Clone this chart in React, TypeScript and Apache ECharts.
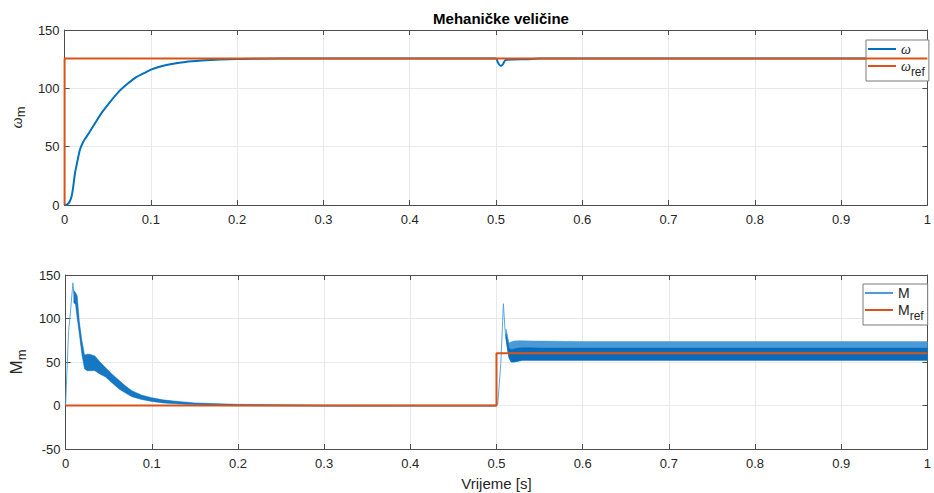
import React, { useEffect, useRef } from "react";
import * as echarts from "echarts";

// ---- Data ----
const omegaT = [0, 0.002, 0.004, 0.006, 0.008, 0.01, 0.012, 0.015, 0.0176, 0.0215, 0.025, 0.029, 0.036, 0.044, 0.054, 0.064, 0.074, 0.083, 0.092, 0.1, 0.11, 0.121, 0.14, 0.159, 0.18, 0.2, 0.25, 0.3, 0.5, 0.502, 0.5053, 0.508, 0.511, 0.52, 0.535, 0.55, 0.6, 1.0];
const omegaV = [0, 0.2, 1, 3, 7, 15.6, 27, 38, 47, 54, 58, 62.6, 71, 80, 89.5, 98, 104.5, 109.6, 113, 116, 118.5, 120.4, 122.6, 123.8, 124.7, 125.2, 125.6, 125.66, 125.66, 122.5, 119.3, 120.6, 124.2, 124.8, 125.0, 125.5, 125.66, 125.66];

const omegaRefT = [0, 0, 1];
const omegaRefV = [0, 125.66, 125.66];

const mT = [0, 0.0035, 0.005, 0.0085, 0.0095, 0.0105, 0.012, 0.013, 0.0143, 0.0155, 0.018, 0.021, 0.025, 0.03, 0.04, 0.05, 0.07, 0.1, 0.15, 0.2, 0.3, 0.5, 0.5015, 0.505, 0.508, 0.51, 0.513, 0.5157, 0.519, 0.53, 0.6, 1];
const mV = [0, 86, 100, 141, 130, 128, 124, 118, 101, 94, 71, 52, 50, 49, 43, 35, 18, 7, 2, 0.5, 0, 0, 2, 48, 117, 86, 63, 53, 60, 62, 62, 62];

const mRefT = [0, 0.5, 0.5, 1];
const mRefV = [0, 0, 60, 60];

// ripple envelope during start-up
const band1T = [0.0095, 0.0115, 0.0135, 0.016, 0.019, 0.022, 0.025, 0.028, 0.034, 0.04, 0.046, 0.054, 0.062, 0.07, 0.077, 0.088, 0.1, 0.113, 0.127, 0.15, 0.178, 0.2, 0.25, 0.3, 0.4, 0.5];
const band1Lo = [118, 116, 100, 82, 58, 42, 40, 40, 40, 36, 33, 26, 19, 14, 10, 7, 4.6, 3, 2, 0.8, 0, -0.3, -0.6, -0.8, -0.8, -0.8];
const band1Hi = [132, 130, 126, 96, 74, 58, 59, 59, 57, 50, 44, 36, 29, 22, 17, 12, 9, 6.5, 5, 3, 2, 1.4, 0.8, 0.5, 0.4, 0.4];

// ripple envelope after load step
const band2T = [0.511, 0.5125, 0.5145, 0.517, 0.52, 0.525, 0.53, 0.54, 0.55, 0.6, 0.7, 0.8, 0.9, 1.0];
const band2Lo = [78, 68, 55, 50, 50, 51, 52, 52, 52, 52, 52, 52, 52, 52];
const band2Mid = [82, 76, 66, 64, 65, 66, 66.5, 66.5, 66, 66, 66, 66, 66, 66];
const band2Hi = [88, 82, 72, 73, 74, 74.5, 74.5, 74.2, 74, 73.6, 73.6, 73.6, 73.6, 73.6];

const BLUE = "#0072BD";
const ORANGE = "#D95319";
const AXIS = "#4d4d4d";
const GRIDC = "#e8e8e8";
const FONT = "'Liberation Sans', Arial, sans-serif";

const zip = (t: number[], v: number[]) => t.map((x, i) => [x, v[i]]);

function bandSeries(name: string, xi: number, yi: number, t: number[], lo: number[], hi: number[], fill: string, z: number) {
  return {
    type: "custom",
    name,
    xAxisIndex: xi,
    yAxisIndex: yi,
    z,
    silent: true,
    data: [[t[0], lo[0]]],
    renderItem: (_p: any, api: any) => {
      const pts: number[][] = [];
      for (let i = 0; i < t.length; i++) pts.push(api.coord([t[i], hi[i]]));
      for (let i = t.length - 1; i >= 0; i--) pts.push(api.coord([t[i], lo[i]]));
      return { type: "polygon", shape: { points: pts }, style: { fill, stroke: fill, lineWidth: 0.5 } };
    },
  };
}

export default function App() {
  const ref = useRef<HTMLDivElement>(null);
  useEffect(() => {
    if (!ref.current) return;
    const chart = echarts.init(ref.current, undefined, { renderer: "svg" });
    const lbl = (v: number) => String(+v.toFixed(2));
    const xBase = (gi: number, showName: boolean) => ({
      type: "value",
      gridIndex: gi,
      min: 0,
      max: 1,
      interval: 0.1,
      axisLine: { show: true, onZero: false, lineStyle: { color: AXIS, width: 1 } },
      axisTick: { show: true, inside: true, length: 5, lineStyle: { color: AXIS } },
      axisLabel: { color: "#262626", fontSize: 13, fontFamily: FONT, margin: 8, formatter: lbl },
      splitLine: { show: true, lineStyle: { color: GRIDC, width: 1 } },
      name: showName ? "Vrijeme [s]" : "",
      nameLocation: "middle",
      nameGap: 27,
      nameTextStyle: { color: "#262626", fontSize: 15, fontFamily: FONT },
    });
    const xTop = (gi: number) => ({
      type: "value",
      gridIndex: gi,
      position: "top",
      min: 0,
      max: 1,
      interval: 0.1,
      axisLine: { show: true, onZero: false, lineStyle: { color: AXIS } },
      axisTick: { show: true, inside: true, length: 5, lineStyle: { color: AXIS } },
      axisLabel: { show: false },
      splitLine: { show: false },
    });
    const yBase = (gi: number, min: number, max: number, name: string, rich: any, gap: number) => ({
      type: "value",
      gridIndex: gi,
      min,
      max,
      interval: 50,
      axisLine: { show: true, onZero: false, lineStyle: { color: AXIS } },
      axisTick: { show: true, inside: true, length: 5, lineStyle: { color: AXIS } },
      axisLabel: { color: "#262626", fontSize: 13, fontFamily: FONT, margin: 5 },
      splitLine: { show: true, lineStyle: { color: GRIDC } },
      name,
      nameLocation: "middle",
      nameGap: gap,
      nameRotate: 90,
      nameTextStyle: { rich },
    });
    const yRight = (gi: number, min: number, max: number) => ({
      type: "value",
      gridIndex: gi,
      position: "right",
      min,
      max,
      interval: 50,
      axisLine: { show: true, onZero: false, lineStyle: { color: AXIS } },
      axisTick: { show: true, inside: true, length: 5, lineStyle: { color: AXIS } },
      axisLabel: { show: false },
      splitLine: { show: false },
    });
    const legendBase = {
      orient: "vertical",
      icon: "rect",
      itemWidth: 28,
      itemHeight: 2,
      itemGap: 3,
      padding: [2, 4, 3, 2],
      borderColor: "#7a7a7a",
      borderWidth: 1,
      backgroundColor: "#fff",
      textStyle: { color: "#262626", fontSize: 13, fontFamily: FONT },
    };

    chart.setOption({
      animation: false,
      backgroundColor: "#fff",
      title: {
        text: "Mehaničke veličine",
        left: 496,
        top: 6,
        textAlign: "center",
        textStyle: { fontSize: 15, fontWeight: "bold", color: "#000", fontFamily: FONT },
      },
      grid: [
        { left: 62, right: 3, top: 30, height: 175, show: false },
        { left: 62, right: 3, top: 275, height: 174, show: false },
      ],
      xAxis: [xBase(0, false), xBase(1, true), xTop(0), xTop(1)],
      yAxis: [
        yBase(0, 0, 150, "{w|ω}{s|m}", {
          w: { fontSize: 16, fontStyle: "italic", fontFamily: "'Liberation Serif', serif", color: "#262626", verticalAlign: "bottom", lineHeight: 20 },
          s: { fontSize: 13, fontFamily: FONT, color: "#262626", verticalAlign: "bottom", lineHeight: 14, padding: [0, 0, -3, 0] },
        }, 26),
        yBase(1, -50, 150, "{w|M}{s|m}", {
          w: { fontSize: 17, fontFamily: FONT, color: "#262626", verticalAlign: "bottom", lineHeight: 20 },
          s: { fontSize: 13, fontFamily: FONT, color: "#262626", verticalAlign: "bottom", lineHeight: 14, padding: [0, 0, -3, 0] },
        }, 25),
        yRight(0, 0, 150),
        yRight(1, -50, 150),
      ],
      legend: [
        {
          ...legendBase,
          left: 866,
          top: 40,
          data: ["ω", "ω_ref"],
          formatter: (n: string) => (n === "ω_ref" ? "{w|ω}{s|ref}" : "{w|ω}"),
          textStyle: {
            ...legendBase.textStyle,
            rich: {
              w: { fontSize: 14, fontStyle: "italic", fontFamily: "'Liberation Serif', serif", color: "#262626", verticalAlign: "bottom", lineHeight: 14 },
              s: { fontSize: 12, fontFamily: FONT, color: "#262626", verticalAlign: "bottom", lineHeight: 12, padding: [0, 0, -5, 0] },
            },
          },
        },
        {
          ...legendBase,
          left: 863,
          top: 284,
          data: ["M", "M_ref"],
          formatter: (n: string) => (n === "M_ref" ? "{w|M}{s|ref}" : "{w|M}"),
          textStyle: {
            ...legendBase.textStyle,
            rich: {
              w: { fontSize: 14, fontFamily: FONT, color: "#262626", verticalAlign: "bottom", lineHeight: 14 },
              s: { fontSize: 12, fontFamily: FONT, color: "#262626", verticalAlign: "bottom", lineHeight: 12, padding: [0, 0, -5, 0] },
            },
          },
        },
      ],
      series: [
        {
          type: "line",
          name: "ω",
          xAxisIndex: 0,
          yAxisIndex: 0,
          data: zip(omegaT, omegaV),
          symbol: "none",
          smooth: 0.3,
          lineStyle: { color: BLUE, width: 2 },
          itemStyle: { color: BLUE },
          z: 3,
        },
        {
          type: "line",
          name: "ω_ref",
          xAxisIndex: 0,
          yAxisIndex: 0,
          data: zip(omegaRefT, omegaRefV),
          symbol: "none",
          lineStyle: { color: ORANGE, width: 2 },
          itemStyle: { color: ORANGE },
          z: 4,
        },
        {
          type: "line",
          name: "M",
          xAxisIndex: 1,
          yAxisIndex: 1,
          data: zip(mT, mV),
          symbol: "none",
          lineStyle: { color: "#4a9ddb", width: 0.9 },
          itemStyle: { color: "#4a9ddb" },
          z: 2,
        },
        bandSeries("band1", 1, 1, band1T, band1Lo, band1Hi, "#1677c2", 3),
        bandSeries("band2a", 1, 1, band2T, band2Lo, band2Hi, "#4a9ad8", 3),
        bandSeries("band2b", 1, 1, band2T, band2Lo, band2Mid, "#0a6cb8", 4),
        {
          type: "line",
          name: "M_ref",
          xAxisIndex: 1,
          yAxisIndex: 1,
          data: zip(mRefT, mRefV),
          symbol: "none",
          lineStyle: { color: ORANGE, width: 2 },
          itemStyle: { color: ORANGE },
          z: 5,
        },
      ],
    });
    return () => chart.dispose();
  }, []);
  return <div ref={ref} style={{ position: "absolute", left: 0, top: 0, width: 934, height: 493 }} />;
}
